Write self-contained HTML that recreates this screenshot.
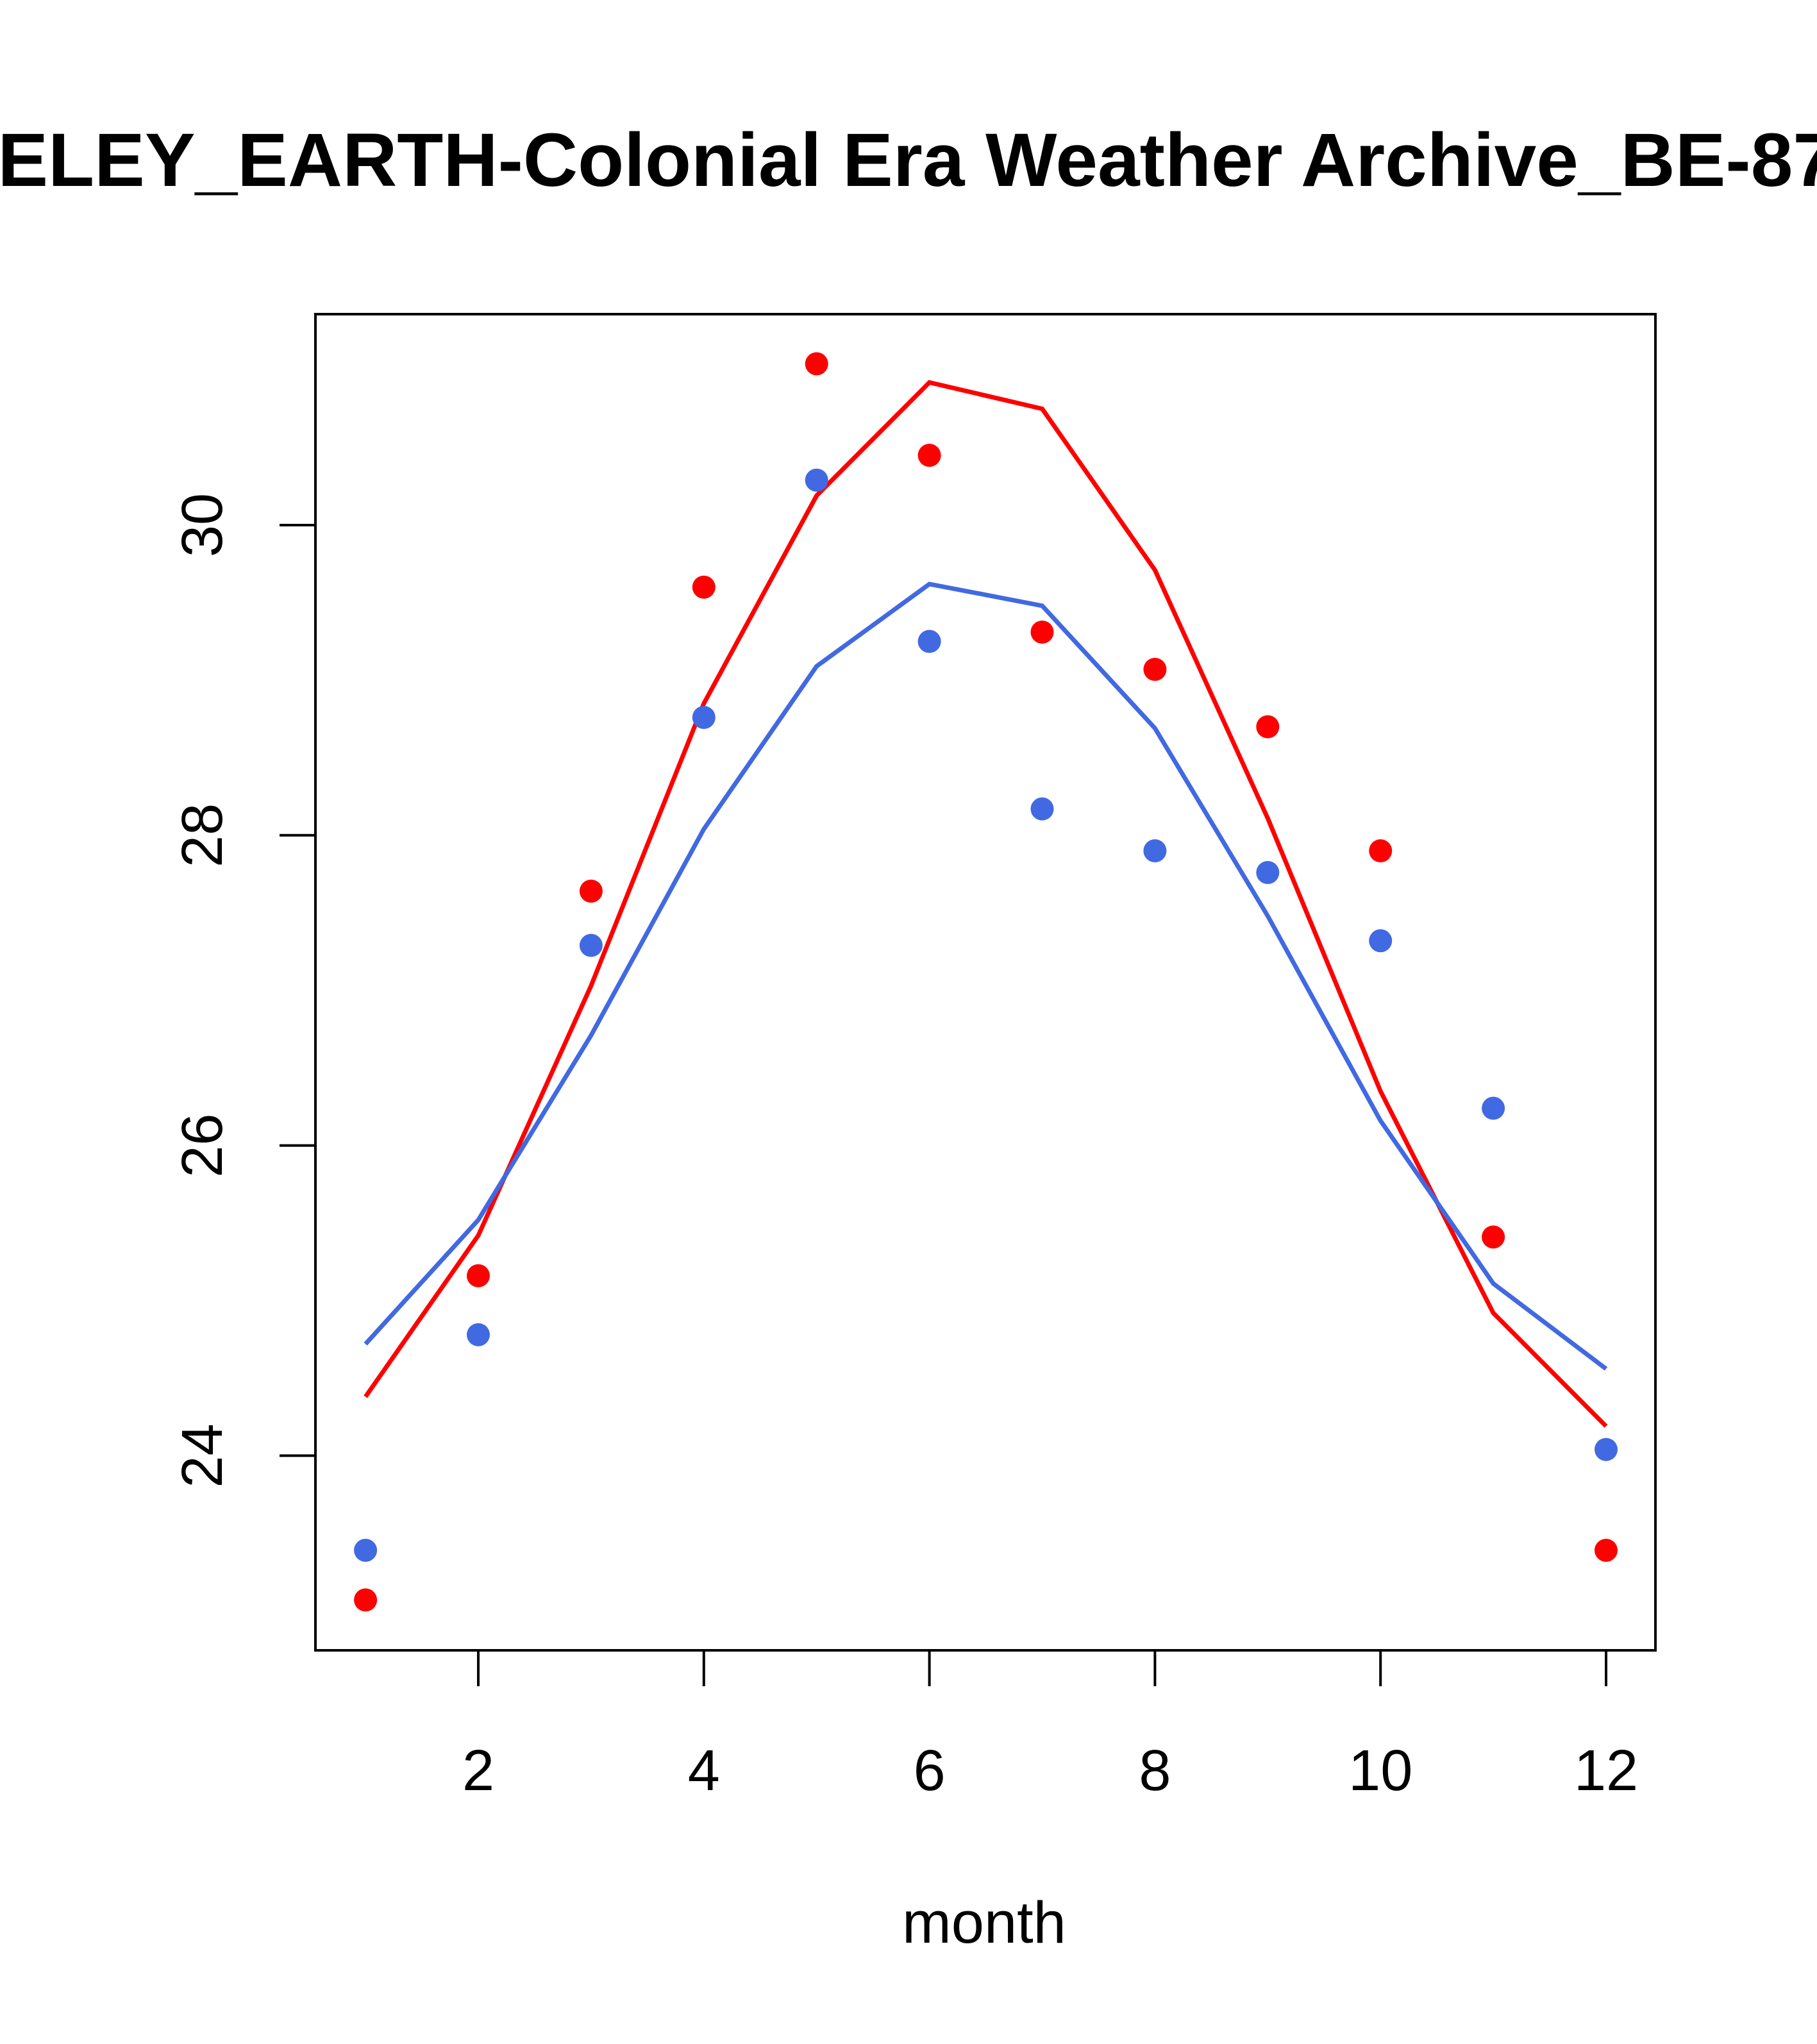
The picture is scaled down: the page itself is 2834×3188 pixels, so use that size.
<!DOCTYPE html>
<html><head><meta charset="utf-8"><style>html,body{margin:0;padding:0;background:#fff}svg{display:block}</style></head>
<body>
<svg id="chart" width="2834" height="3188" viewBox="0 0 2834 3188" xmlns="http://www.w3.org/2000/svg" font-family="Liberation Sans, sans-serif">
<rect width="2834" height="3188" fill="#fff"/>
<text x="-338" y="290" text-anchor="start" font-size="118" font-weight="bold">BERKELEY_EARTH-Colonial Era Weather Archive_BE-87315</text>
<rect x="492" y="490" width="2090" height="2084" fill="none" stroke="#000" stroke-width="4"/>
<g id="xaxis"></g>
<g id="yaxis"></g>
<g id="lines"></g>
<g id="points"></g>
<text x="1535" y="3030" text-anchor="middle" font-size="92">month</text>
</svg>
<script>
const months = [1,2,3,4,5,6,7,8,9,10,11,12];
const redPoints = [23.07,25.16,27.64,29.60,31.04,30.45,29.31,29.07,28.70,27.90,25.41,23.39];
const bluePoints = [23.39,24.78,27.29,28.76,30.29,29.25,28.17,27.90,27.76,27.32,26.24,24.04];
const redLine = [24.38,25.42,27.03,28.85,30.19,30.92,30.75,29.71,28.11,26.35,24.92,24.19];
const blueLine = [24.72,25.52,26.71,28.04,29.09,29.62,29.48,28.69,27.48,26.16,25.11,24.56];
const xTicks = [2,4,6,8,10,12];
const yTicks = [24,26,28,30];

const NS = "http://www.w3.org/2000/svg";
function xs(m){ return 746 + (m-2)*175.9; }
function ys(v){ return 819 + (30-v)*241.9; }
function mk(tag, attrs, parent){ const e=document.createElementNS(NS,tag); for(const k in attrs) e.setAttribute(k,attrs[k]); parent.appendChild(e); return e; }

const xa=document.getElementById('xaxis');
mk('line',{x1:xs(xTicks[0]),x2:xs(xTicks[xTicks.length-1]),y1:2574,y2:2574,stroke:'#000','stroke-width':4},xa);
xTicks.forEach(t=>{
  const l=mk('line',{x1:xs(t),x2:xs(t),y1:2574,y2:2630,stroke:'#000','stroke-width':4},xa);
  
  
  const tx=mk('text',{x:xs(t),y:2792,'text-anchor':'middle','font-size':90},xa);
  tx.textContent=t;
  
  
});
const ya=document.getElementById('yaxis');
mk('line',{x1:492,x2:492,y1:ys(yTicks[0]),y2:ys(yTicks[yTicks.length-1]),stroke:'#000','stroke-width':4},ya);
yTicks.forEach(t=>{
  const l=mk('line',{x1:436,x2:492,y1:ys(t),y2:ys(t),stroke:'#000','stroke-width':4},ya);
  
  
  const tx=mk('text',{x:0,y:0,'text-anchor':'middle','font-size':90,transform:`translate(346,${ys(t)}) rotate(-90)`},ya);
  tx.textContent=t;
  
  
});
const lg=document.getElementById('lines');
[[redLine,'#ff0000','red-line'],[blueLine,'#4169e1','blue-line']].forEach(([d,c,n])=>{
  const p=mk('polyline',{points:d.map((v,i)=>xs(months[i])+','+ys(v)).join(' '),fill:'none',stroke:c,'stroke-width':7},lg);
  
  
});
const pg=document.getElementById('points');
[[redPoints,'#ff0000','red-point'],[bluePoints,'#4169e1','blue-point']].forEach(([d,c,n])=>{
  d.forEach((v,i)=>{
    const e=mk('circle',{cx:xs(months[i]),cy:ys(v),r:18,fill:c},pg);
    
    
  });
});
</script>
</body></html>
